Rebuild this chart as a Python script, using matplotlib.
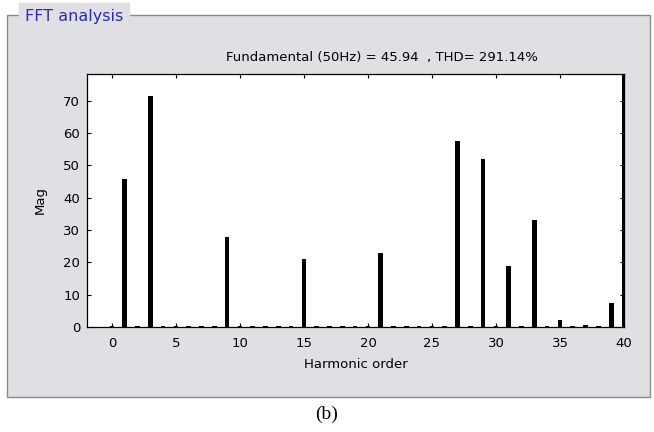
import matplotlib.pyplot as plt
from matplotlib.patches import Rectangle

# harmonic spectrum
harmonics = list(range(0, 41))
mags = [0.4, 45.94, 0.4, 71.5, 0.4, 0.4, 0.4, 0.4, 0.4, 28.0,
        0.4, 0.4, 0.4, 0.4, 0.4, 21.0, 0.4, 0.4, 0.4, 0.4,
        0.4, 23.0, 0.4, 0.4, 0.4, 0.4, 0.4, 57.5, 0.4, 52.0,
        0.4, 19.0, 0.4, 33.0, 0.4, 2.2, 0.4, 0.6, 0.4, 7.5,
        78.3]
xticks = [0, 5, 10, 15, 20, 25, 30, 35, 40]
yticks = [0, 10, 20, 30, 40, 50, 60, 70]
title = "Fundamental (50Hz) = 45.94  , THD= 291.14%"

W, H = 654, 432
fig = plt.figure(figsize=(W / 100, H / 100), dpi=100)
fig.patch.set_facecolor("white")

panel = "#e0dfe3"
fig.add_artist(Rectangle((7 / W, 1 - 397 / H), (650 - 7) / W, (397 - 15) / H,
                         transform=fig.transFigure, facecolor=panel,
                         edgecolor="#8a8a8a", linewidth=1.0, zorder=0))
fig.text(25 / W, 1 - 16 / H, "FFT analysis", color="#2b2bb0", fontsize=11.5,
         va="center", ha="left", backgroundcolor=panel)

ax = fig.add_axes([87 / W, 1 - 327 / H, (624 - 87) / W, (327 - 74) / H])
ax.set_facecolor("white")
ax.bar(harmonics, mags, width=0.36, color="black", zorder=2)
ax.set_xlim(-1.95, 40)
ax.set_ylim(0, 78.3)
ax.set_xticks(xticks)
ax.set_yticks(yticks)
ax.tick_params(direction="in", top=True, right=True, length=3, labelsize=9.5)
ax.tick_params(axis="x", pad=7)
ax.tick_params(axis="y", pad=5)
for s in ax.spines.values():
    s.set_linewidth(0.9)
fig.text(382 / W, 1 - 57 / H, title, fontsize=9.5, ha="center", va="center")
ax.set_xlabel("Harmonic order", fontsize=9.5, labelpad=6)
ax.set_ylabel("Mag", fontsize=9.5, labelpad=12)

fig.text(0.5, 1 - 414 / H, "(b)", family="Liberation Serif", fontsize=14,
         ha="center", va="center")

fig.savefig("out.png", dpi=100)
